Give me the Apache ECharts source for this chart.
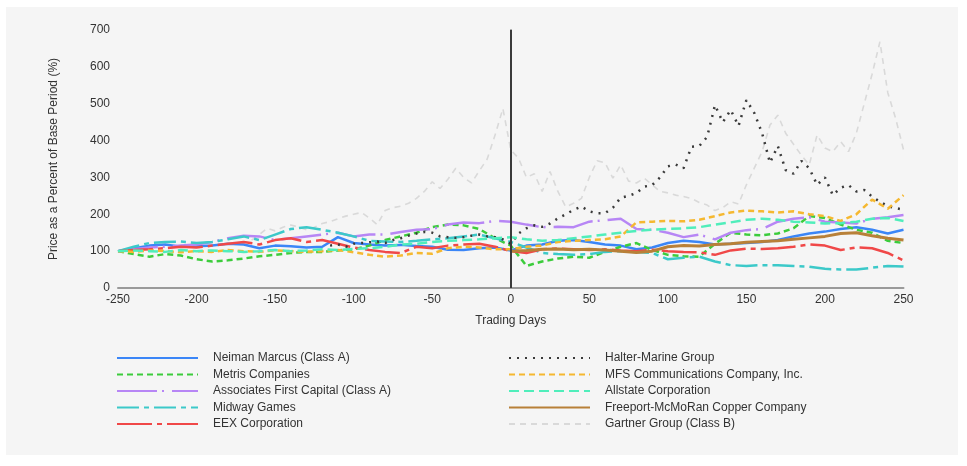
<!DOCTYPE html>
<html>
<head>
<meta charset="utf-8">
<script src="https://cdn.jsdelivr.net/npm/echarts@6/dist/echarts.min.js"></script>
<style>
html,body{margin:0;padding:0;background:#ffffff;}
#bg{position:absolute;left:6px;top:7px;width:952px;height:448px;background:#f5f5f5;}
#chart{position:absolute;left:0;top:0;width:967px;height:466px;}
</style>
</head>
<body>
<div id="bg"></div>
<div id="chart"></div>
<script>
// ---- data ----
const days10 = [-250,-240,-230,-220,-210,-200,-190,-180,-170,-160,-150,-140,-130,-120,-110,-100,-90,-80,-70,-60,-50,-40,-30,-20,-10,0,10,20,30,40,50,60,70,80,90,100,110,120,130,140,150,160,170,180,190,200,210,220,230,240,250];
const daysFreeport = [0,10,20,30,40,50,60,70,80,90,100,110,120,130,140,150,160,170,180,190,200,210,220,230,240,250];
const daysHalter = [-115,-110,-105,-100,-95,-90,-85,-80,-75,-70,-65,-60,-55,-50,-45,-40,-35,-30,-25,-20,-15,-10,-5,0,5,10,15,20,25,30,35,40,45,50,55,60,65,70,75,80,85,90,95,100,105,110,115,120,125,130,135,140,145,150,155,160,165,170,175,180,185,190,195,200,205,210,215,220,225,230,235,240,245,250];
const daysGartner = [-165,-160,-155,-150,-145,-140,-135,-130,-125,-120,-115,-110,-105,-100,-95,-90,-85,-80,-75,-70,-65,-60,-55,-50,-45,-40,-35,-30,-25,-20,-15,-10,-5,0,5,10,15,20,25,30,35,40,45,50,55,60,65,70,75,80,85,90,95,100,105,110,115,120,125,130,135,140,145,150,155,160,165,170,175,180,185,190,195,200,205,210,215,220,225,230,235,240,245,250];

const neiman = [100,108,115,118,112,113,115,120,118,108,115,113,110,112,138,122,118,115,117,114,112,104,103,108,110,102,115,118,128,130,125,118,115,105,110,122,128,125,118,120,122,125,130,140,148,153,160,165,158,148,158];
const metris = [100,92,85,92,88,78,72,75,80,86,90,95,98,98,102,105,115,130,140,150,165,172,170,160,135,115,60,72,80,85,82,98,112,122,103,90,86,85,120,150,145,143,148,162,195,190,172,158,150,128,122];
const associates = [100,105,110,112,115,118,125,135,142,140,130,135,140,145,150,140,145,145,152,158,160,172,178,176,182,180,172,165,166,165,180,184,188,160,158,150,138,145,132,150,157,160,180,188,192,180,178,175,188,192,198];
const midway = [100,112,122,125,126,122,125,132,140,130,145,160,165,158,150,140,128,126,125,128,132,135,140,145,135,125,110,95,92,90,92,98,100,98,95,78,82,85,72,62,60,62,62,60,58,52,50,50,55,60,58];
const eex = [100,103,105,108,112,110,115,120,125,118,130,135,125,130,120,110,103,98,95,112,108,115,118,120,112,100,95,105,107,105,103,105,102,100,104,100,98,97,90,102,107,106,108,112,118,115,103,110,108,95,75];
const halter = [115,118,112,120,122,124,126,122,130,135,142,148,152,150,140,138,136,138,142,145,140,138,132,120,148,162,170,166,175,189,200,212,221,208,203,203,218,245,250,258,275,279,300,330,335,325,383,385,410,496,450,483,440,510,475,420,340,385,320,310,345,325,280,300,252,272,279,262,266,248,234,222,217,212];
const mfs = [100,98,102,100,97,100,98,103,100,98,102,100,98,100,103,97,90,85,88,95,93,108,112,110,105,105,112,115,125,128,130,132,140,178,180,182,181,185,195,205,210,208,205,208,200,195,182,200,240,215,252];
const allstate = [100,102,100,98,103,100,102,100,98,100,103,100,102,105,103,106,108,112,118,120,125,128,130,132,135,138,132,128,130,135,140,145,150,155,158,160,162,165,172,178,185,188,185,180,178,175,176,180,188,190,182];
const freeport = [100,102,105,106,104,105,103,100,96,100,112,115,114,118,120,124,126,128,132,136,140,148,150,142,135,130];
const gartner = [130,145,162,155,165,171,165,158,165,175,180,188,195,200,205,190,172,210,218,222,230,243,262,288,270,295,325,300,285,318,350,415,487,375,352,300,310,262,316,262,220,230,243,300,345,340,298,334,290,285,298,280,262,258,252,248,243,232,225,210,218,234,228,280,325,370,442,469,420,390,360,334,415,380,370,397,370,420,500,580,668,530,460,375];

const names = ["Neiman Marcus (Class A)","Metris Companies","Associates First Capital (Class A)","Midway Games","EEX Corporation","Halter-Marine Group","MFS Communications Company, Inc.","Allstate Corporation","Freeport-McMoRan Copper Company","Gartner Group (Class B)"];
const xTicks = [-250,-200,-150,-100,-50,0,50,100,150,200,250];
const yTicks = [0,100,200,300,400,500,600,700];

function pairs(d, v){ return d.map((x,i)=>[x, v[i]]); }
function mk(name, d, v, color, dash, width, z){
  return {name:name, type:'line', data:pairs(d,v), symbol:'none', showSymbol:false, z:z||2,
    lineStyle:{color:color, width:width||2.5, type:dash},
    itemStyle:{color:color}};
}

const series = [
  mk(names[9], daysGartner, gartner, '#d9d9d9', [6,5], 1.6, 1),
  mk(names[0], days10, neiman, '#3b86f7', 'solid'),
  mk(names[1], days10, metris, '#3ccc3c', [6,4]),
  mk(names[2], days10, associates, '#b786f5', [40,5,2,8]),
  mk(names[3], days10, midway, '#3cc9c9', [22,5,5,5]),
  mk(names[4], days10, eex, '#f04848', [35,5,5,5]),
  mk(names[5], daysHalter, halter, '#3a3a3a', [2,6]),
  mk(names[6], days10, mfs, '#f5b830', [6,4]),
  mk(names[7], days10, allstate, '#50eebb', [10,5]),
  mk(names[8], daysFreeport, freeport, '#b88038', 'solid', 3)
];
series[1].markLine = {silent:true, symbol:'none', label:{show:false}, animation:false,
  lineStyle:{color:'#3a3a3a', width:2, type:'solid'}, data:[{xAxis:0}]};

const font = 'Liberation Sans, Arial, sans-serif';
const legendBase = {orient:'vertical', top:347, padding:5, itemWidth:81, itemHeight:14, itemGap:4.5,
  itemStyle:{opacity:0},
  textStyle:{color:'#333', fontSize:12, fontFamily:font, padding:[0,0,0,10]}};

const chart = echarts.init(document.getElementById('chart'), null, {renderer:'canvas'});
chart.setOption({
  animation:false,
  backgroundColor:'transparent',
  textStyle:{fontFamily:font},
  grid:{left:118, right:63.5, top:30, bottom:178, containLabel:false},
  legend:[
    Object.assign({}, legendBase, {left:111, data:names.slice(0,5)}),
    Object.assign({}, legendBase, {left:503, data:names.slice(5,10)})
  ],
  xAxis:{type:'value', min:-250, max:250, interval:50,
    name:'Trading Days', nameLocation:'middle', nameGap:27,
    nameTextStyle:{color:'#333', fontSize:12, fontFamily:font},
    axisLine:{show:true, onZero:false, lineStyle:{color:'#9a9a9a', width:2}},
    axisTick:{show:false}, splitLine:{show:false},
    axisLabel:{color:'#333', fontSize:12, margin:6, fontFamily:font}},
  yAxis:{type:'value', min:0, max:700, interval:100,
    name:'Price as a Percent of Base Period (%)', nameLocation:'middle', nameGap:58, nameRotate:90,
    nameTextStyle:{color:'#333', fontSize:12, fontFamily:font},
    axisLine:{show:true, lineStyle:{color:'#9a9a9a', width:2}},
    axisTick:{show:false}, splitLine:{show:false},
    axisLabel:{color:'#333', fontSize:12, margin:8, fontFamily:font}},
  series:series
});
</script>
</body>
</html>
